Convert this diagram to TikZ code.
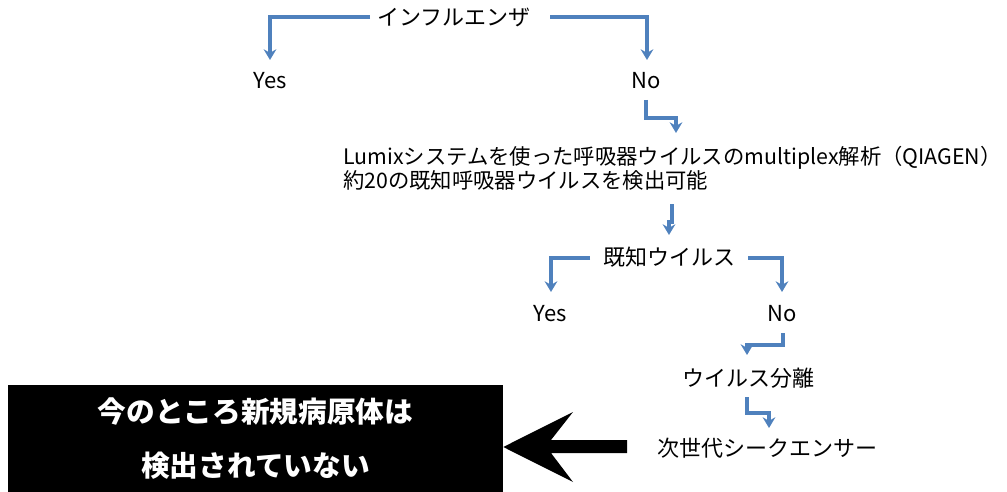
\documentclass[tikz,border=0pt]{standalone}
\usepackage{fontspec}
\setmainfont{Noto Sans CJK JP}
\usetikzlibrary{calc,arrows.meta}
\definecolor{flowblue}{HTML}{4F81BD}
\tikzset{
  txt/.style={inner sep=0pt, font=\fontsize{16.5pt}{20pt}\selectfont},
  arr/.style={draw=flowblue, line width=2.6pt, -{Stealth[length=8pt,width=9.5pt]}},
}
\begin{document}
\begin{tikzpicture}[x=0.75pt,y=-0.75pt]
\useasboundingbox (0,0) rectangle (1007,492);
% text nodes
\node[txt] (infl) at (454,17) {インフルエンザ};
\node[txt] (yes1) at (270,81) {Yes};
\node[txt] (no1) at (646,81) {No};
\node[txt, anchor=west, align=left, font=\fontsize{16pt}{15.75pt}\selectfont] (lumix) at (343,168)
  {Lumixシステムを使った呼吸器ウイルスのmultiplex解析（QIAGEN）\\約20の既知呼吸器ウイルスを検出可能};
\node[txt] (known) at (669,257) {既知ウイルス};
\node[txt] (yes2) at (550,314) {Yes};
\node[txt] (no2) at (782,314) {No};
\node[txt] (iso) at (748,378) {ウイルス分離};
\node[txt, anchor=west] (ngs) at (657,448) {次世代シークエンサー};
% black box
\node[fill=black, minimum width=371.25pt, minimum height=80.25pt, inner sep=0pt,
      text=white, align=center, font=\fontsize{21.5pt}{40.5pt}\selectfont\bfseries] (box) at (255.5,438.5)
  {今のところ新規病原体は\\検出されていない};
% connectors
\draw[arr] ($(infl)+(-84,0)$) -| ($(yes1)+(0,-21)$);
\draw[arr] ($(infl)+(96,0)$) -| ($(no1)+(1,-21)$);
\draw[arr] ($(no1)+(0,19)$) -- ++(0,18) -| ($(no1)+(30,52)$);
\draw[arr] ($(known)+(3,-53)$) -- ++(0,18) -| ($(known)+(0,-22)$);
\draw[arr] ($(known)+(-79,1)$) -| ($(yes2)+(1,-22)$);
\draw[arr] ($(known)+(79,1)$) -| ($(no2)+(0,-22)$);
\draw[arr] ($(no2)+(1,19)$) -- ++(0,12) -| ($(iso)+(-1,-23)$);
\draw[arr] ($(iso)+(-1,19)$) -- ++(0,16) -| ($(iso)+(21,50)$);
% big black arrow
\fill[black] (box.east |- 0,447) -- (573,412) -- (551,440) -- (627,440) -- (627,453) -- (551,453) -- (573,482) -- cycle;
\end{tikzpicture}
\end{document}
